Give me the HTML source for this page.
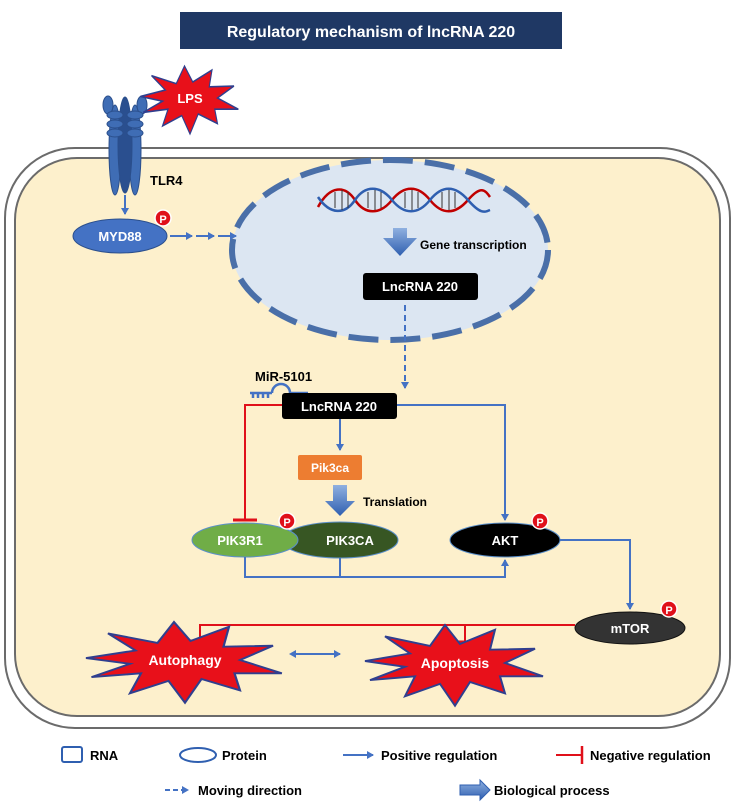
<!DOCTYPE html>
<html><head><meta charset="utf-8"><style>
html,body{margin:0;padding:0;background:#fff;}
svg{display:block;font-family:"Liberation Sans",Arial,sans-serif;font-weight:bold;}
</style></head><body>
<svg width="740" height="809" viewBox="0 0 740 809" xmlns="http://www.w3.org/2000/svg">
<defs>
<marker id="ab" markerWidth="8" markerHeight="8" refX="6" refY="4" orient="auto" markerUnits="userSpaceOnUse"><path d="M0,0 L7,4 L0,8 Z" fill="#4472c4"/></marker>
<marker id="abs" markerWidth="8" markerHeight="8" refX="1" refY="4" orient="auto-start-reverse" markerUnits="userSpaceOnUse"><path d="M0,0 L7,4 L0,8 Z" fill="#4472c4"/></marker>
<polygon id="star" points="-90,-2 -45,-10 -70,-28 -25,-18 -10,-40 5,-20 40,-35 35,-14 80,-15 50,0 88,14 45,14 50,32 15,20 0,45 -15,22 -50,35 -40,14 -85,18 -50,4" fill="#e8101a" stroke="#2f3f8f" stroke-width="2"/>
<linearGradient id="bg" x1="0" x2="0" y1="0" y2="1"><stop offset="0" stop-color="#8fb0e0"/><stop offset="1" stop-color="#2f5fb0"/></linearGradient>
</defs>
<rect x="180" y="12" width="382" height="37" fill="#1f3864"/>
<text x="371" y="37" fill="#fff" font-size="16" text-anchor="middle">Regulatory mechanism of lncRNA 220</text>
<rect x="5" y="148" width="725" height="580" rx="70" fill="#fff" stroke="#6b6b6b" stroke-width="2"/>
<rect x="15" y="158" width="705" height="558" rx="62" fill="#fdf0cc" stroke="#6b6b6b" stroke-width="2"/>
<g fill="#3f6db5" stroke="#2b4f8c" stroke-width="1">
<ellipse cx="115" cy="150" rx="6" ry="45"/><ellipse cx="135" cy="150" rx="6" ry="45"/>
<ellipse cx="125" cy="145" rx="7" ry="48" fill="#2a4f8f"/>
<ellipse cx="108" cy="105" rx="5" ry="9"/><ellipse cx="142" cy="105" rx="5" ry="9"/>
<ellipse cx="115" cy="115" rx="8" ry="4"/><ellipse cx="135" cy="115" rx="8" ry="4"/>
<ellipse cx="115" cy="124" rx="8" ry="4"/><ellipse cx="135" cy="124" rx="8" ry="4"/>
<ellipse cx="115" cy="133" rx="8" ry="4"/><ellipse cx="135" cy="133" rx="8" ry="4"/>
</g>
<use href="#star" transform="translate(190,98) scale(0.55,0.8)" />
<text x="190" y="103" fill="#fff" font-size="13" text-anchor="middle">LPS</text>
<text x="150" y="185" font-size="13">TLR4</text>
<line x1="125" y1="195" x2="125" y2="214" stroke="#4472c4" stroke-width="2" marker-end="url(#ab)"/>
<ellipse cx="120" cy="236" rx="47" ry="17" fill="#4472c4" stroke="#2b4f8c"/>
<text x="120" y="241" fill="#fff" font-size="13" text-anchor="middle">MYD88</text>
<circle cx="163" cy="218" r="8" fill="#e0101a" stroke="#fff" stroke-width="1.5"/><text x="163" y="223" fill="#fff" font-size="11" text-anchor="middle">P</text>
<ellipse cx="390" cy="250" rx="158" ry="90" fill="#dce6f2" stroke="#4a6fa8" stroke-width="6" stroke-dasharray="30,12"/>
<g stroke="#4472c4" stroke-width="2">
<line x1="170" y1="236" x2="192" y2="236" marker-end="url(#ab)"/>
<line x1="196" y1="236" x2="214" y2="236" marker-end="url(#ab)"/>
<line x1="218" y1="236" x2="236" y2="236" marker-end="url(#ab)"/>
</g>
<g fill="none" stroke-width="2.5">
<path d="M318,207 C330,185 345,185 355,200 S380,215 392,200 S418,185 430,200 S455,215 468,200 S485,190 490,197" stroke="#c00000"/>
<path d="M318,197 C330,215 345,215 355,200 S380,185 392,200 S418,215 430,200 S455,185 468,200 S485,212 490,210" stroke="#2f5fb0"/>
<g stroke="#333" stroke-width="1"><path d="M335,192v16M342,190v20M348,192v16M368,192v16M375,190v20M381,192v16M405,192v16M412,190v20M418,192v16M442,192v16M449,190v20M455,192v16"/></g>
</g>
<path d="M393,228 h14 v10 h10 l-17,18 l-17,-18 h10 z" fill="url(#bg)"/>
<text x="420" y="249" font-size="12">Gene transcription</text>
<rect x="363" y="273" width="115" height="27" rx="3" fill="#000"/>
<text x="420" y="291" fill="#fff" font-size="13" text-anchor="middle">LncRNA 220</text>
<line x1="405" y1="305" x2="405" y2="388" stroke="#4472c4" stroke-width="2" stroke-dasharray="6,4" marker-end="url(#ab)"/>
<text x="255" y="381" font-size="13">MiR-5101</text>
<g stroke="#4472c4" stroke-width="2.5" fill="none">
<path d="M250,393 h22 M290,393 h18 M272,393 a9,9 0 0 1 18,0"/>
<path d="M253,393v5M258,393v5M263,393v5M268,393v5M294,393v5M299,393v5M304,393v5"/>
</g>
<rect x="282" y="393" width="115" height="26" rx="3" fill="#000"/>
<text x="339" y="411" fill="#fff" font-size="13" text-anchor="middle">LncRNA 220</text>
<polyline points="282,405 245,405 245,520" fill="none" stroke="#e0101a" stroke-width="2"/>
<line x1="233" y1="520" x2="257" y2="520" stroke="#e0101a" stroke-width="3"/>
<polyline points="397,405 505,405 505,520" fill="none" stroke="#4472c4" stroke-width="2" marker-end="url(#ab)"/>
<line x1="340" y1="419" x2="340" y2="450" stroke="#4472c4" stroke-width="2" marker-end="url(#ab)"/>
<rect x="298" y="455" width="64" height="25" rx="2" fill="#ed7d31"/>
<text x="330" y="472" fill="#fff" font-size="12" text-anchor="middle">Pik3ca</text>
<path d="M333,485 h14 v16 h8 l-15,15 l-15,-15 h8 z" fill="url(#bg)"/>
<text x="363" y="506" font-size="12">Translation</text>
<ellipse cx="340" cy="540" rx="58" ry="18" fill="#375623" stroke="#5b8fc9" stroke-width="1"/>
<ellipse cx="245" cy="540" rx="53" ry="17" fill="#70ad47" stroke="#5b8fc9" stroke-width="1"/>
<text x="240" y="545" fill="#fff" font-size="13" text-anchor="middle">PIK3R1</text>
<text x="350" y="545" fill="#fff" font-size="13" text-anchor="middle">PIK3CA</text>
<circle cx="287" cy="521" r="8" fill="#e0101a" stroke="#fff" stroke-width="1.5"/><text x="287" y="526" fill="#fff" font-size="11" text-anchor="middle">P</text>
<ellipse cx="505" cy="540" rx="55" ry="17" fill="#000" stroke="#5b8fc9"/>
<text x="505" y="545" fill="#fff" font-size="13" text-anchor="middle">AKT</text>
<circle cx="540" cy="521" r="8" fill="#e0101a" stroke="#fff" stroke-width="1.5"/><text x="540" y="526" fill="#fff" font-size="11" text-anchor="middle">P</text>
<polyline points="245,557 245,577 505,577 505,560" fill="none" stroke="#4472c4" stroke-width="2" marker-end="url(#ab)"/>
<line x1="340" y1="558" x2="340" y2="577" stroke="#4472c4" stroke-width="2"/>
<polyline points="560,540 630,540 630,609" fill="none" stroke="#4472c4" stroke-width="2" marker-end="url(#ab)"/>
<ellipse cx="630" cy="628" rx="55" ry="16" fill="#333" stroke="#111"/>
<text x="630" y="633" fill="#fff" font-size="13" text-anchor="middle">mTOR</text>
<circle cx="669" cy="609" r="8" fill="#e0101a" stroke="#fff" stroke-width="1.5"/><text x="669" y="614" fill="#fff" font-size="11" text-anchor="middle">P</text>
<polyline points="575,625 200,625 200,640" fill="none" stroke="#e0101a" stroke-width="2"/>
<line x1="188" y1="641" x2="212" y2="641" stroke="#e0101a" stroke-width="3"/>
<line x1="465" y1="625" x2="465" y2="641" stroke="#e0101a" stroke-width="2"/>
<line x1="453" y1="642" x2="477" y2="642" stroke="#e0101a" stroke-width="3"/>
<use href="#star" transform="translate(185,660) scale(1.1,0.95)"/>
<text x="185" y="665" fill="#fff" font-size="14" text-anchor="middle">Autophagy</text>
<use href="#star" transform="translate(455,663) scale(1.0,0.95)"/>
<text x="455" y="668" fill="#fff" font-size="14" text-anchor="middle">Apoptosis</text>
<line x1="295" y1="654" x2="340" y2="654" stroke="#4472c4" stroke-width="2" marker-end="url(#ab)" marker-start="url(#abs)"/>
<rect x="62" y="747" width="20" height="15" rx="2" fill="none" stroke="#2f5fb0" stroke-width="2"/>
<text x="90" y="760" font-size="13">RNA</text>
<ellipse cx="198" cy="755" rx="18" ry="7" fill="none" stroke="#2f5fb0" stroke-width="2"/>
<text x="222" y="760" font-size="13">Protein</text>
<line x1="343" y1="755" x2="373" y2="755" stroke="#4472c4" stroke-width="2" marker-end="url(#ab)"/>
<text x="381" y="760" font-size="13">Positive regulation</text>
<line x1="556" y1="755" x2="582" y2="755" stroke="#e0101a" stroke-width="2"/>
<line x1="582" y1="746" x2="582" y2="764" stroke="#e0101a" stroke-width="2.5"/>
<text x="590" y="760" font-size="13">Negative regulation</text>
<line x1="165" y1="790" x2="188" y2="790" stroke="#4472c4" stroke-width="2" stroke-dasharray="5,3" marker-end="url(#ab)"/>
<text x="198" y="795" font-size="13">Moving direction</text>
<path d="M460,785 h20 v-5 l10,10 l-10,10 v-5 h-20 z" fill="url(#bg)" stroke="#2f5fb0"/>
<text x="494" y="795" font-size="13">Biological process</text>
</svg>
</body></html>
